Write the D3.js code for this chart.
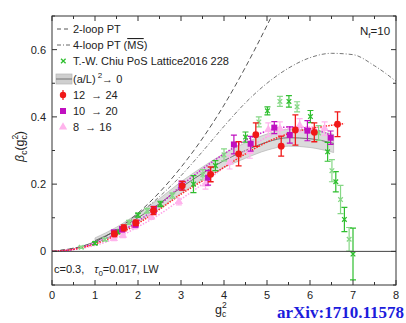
<!DOCTYPE html>
<html>
<head>
<meta charset="utf-8">
<script src="https://cdn.jsdelivr.net/npm/d3@7"></script>
<style>
  body { margin: 0; background: #fff; }
  svg { display: block; font-family: "Liberation Sans", Arial, sans-serif; }
  text { fill: #222; }
</style>
</head>
<body>
<svg id="chart" width="406" height="323"></svg>
<script>
// tick values
const xTicks = [0, 1, 2, 3, 4, 5, 6, 7, 8];
const xMinor = [0.5, 1.5, 2.5, 3.5, 4.5, 5.5, 6.5, 7.5];
const yTicks = [0, 0.2, 0.4, 0.6];
const yMinor = [-0.1, 0.1, 0.3, 0.5, 0.7];

// perturbative curves
const pt2X = [0, 1, 2, 3, 4, 4.5, 5, 5.3];
const pt2Y = [0, 0.029, 0.114, 0.25, 0.435, 0.548, 0.672, 0.75];
const pt4X = [0, 1, 2, 3, 3.5, 4, 4.5, 5, 5.5, 6, 6.5, 7, 7.5, 8];
const pt4Y = [0, 0.029, 0.11, 0.225, 0.297, 0.372, 0.442, 0.5, 0.545, 0.576, 0.589, 0.585, 0.552, 0.506];

// continuum extrapolation band
const bandX = [1.0, 1.5, 2.0, 2.5, 3.0, 3.5, 4.0, 4.5, 5.0, 5.5, 6.0, 6.55];
const bandMid = [0.032, 0.062, 0.1, 0.142, 0.19, 0.232, 0.27, 0.3, 0.325, 0.338, 0.335, 0.321];
const bandHalf = [0.008, 0.01, 0.013, 0.015, 0.017, 0.019, 0.021, 0.023, 0.024, 0.025, 0.026, 0.027];

// interpolating fits per volume pair
const fitX = [0, 0.5, 1, 1.5, 2, 2.5, 3, 3.5, 4, 4.5, 5, 5.5, 6, 6.5, 6.8];
const fit12Y = [0, 0.006, 0.022, 0.048, 0.083, 0.125, 0.17, 0.21, 0.25, 0.29, 0.325, 0.35, 0.365, 0.375, 0.38];
const fit10X = [0, 0.5, 1, 1.5, 2, 2.5, 3, 3.5, 4, 4.5, 5, 5.5, 6, 6.5];
const fit10Y = [0, 0.006, 0.025, 0.052, 0.09, 0.138, 0.195, 0.245, 0.29, 0.33, 0.358, 0.37, 0.365, 0.345];
const fit8X = [0, 0.5, 1, 1.5, 2, 2.5, 3, 3.5, 4, 4.5, 5, 5.5, 6, 6.4];
const fit8Y = [0, 0.005, 0.018, 0.04, 0.073, 0.11, 0.155, 0.2, 0.25, 0.3, 0.34, 0.365, 0.37, 0.365];

// 12 -> 24
const redX = [1.45, 1.67, 1.95, 2.36, 3.03, 3.69, 4.34, 4.74, 5.33, 5.66, 6.10, 6.64];
const redY = [0.052, 0.070, 0.085, 0.121, 0.195, 0.229, 0.290, 0.347, 0.313, 0.361, 0.354, 0.378];
const redE = [0.008, 0.009, 0.008, 0.012, 0.013, 0.022, 0.036, 0.035, 0.03, 0.045, 0.028, 0.037];
// 10 -> 20
const magX = [1.44, 1.63, 1.94, 2.37, 3.01, 3.63, 4.23, 4.62, 5.17, 5.53, 5.94, 6.48];
const magY = [0.056, 0.066, 0.080, 0.124, 0.196, 0.219, 0.318, 0.320, 0.368, 0.346, 0.359, 0.338];
const magE = [0.007, 0.008, 0.008, 0.010, 0.013, 0.022, 0.028, 0.022, 0.018, 0.024, 0.03, 0.02];
// 8 -> 16
const pinkX = [1.44, 1.65, 1.92, 2.31, 2.95, 3.57, 4.13, 4.60, 5.03, 5.30, 5.76, 6.34];
const pinkY = [0.038, 0.048, 0.074, 0.103, 0.148, 0.200, 0.265, 0.297, 0.362, 0.365, 0.375, 0.365];
const pinkE = [0.006, 0.007, 0.007, 0.008, 0.01, 0.015, 0.02, 0.02, 0.02, 0.02, 0.02, 0.02];
// T.-W. Chiu
const chiuX = [0.68, 1.0, 1.23, 1.53, 1.79, 2.0, 2.21, 2.52, 2.80, 3.29, 3.51, 3.80, 4.0, 4.5, 4.81, 5.01,
  5.30, 5.51, 5.70, 6.01, 6.20, 6.41, 6.51, 6.60, 6.71, 6.80, 6.91, 7.00];
const chiuY = [0.012, 0.024, 0.035, 0.058, 0.086, 0.108, 0.121, 0.141, 0.166, 0.200, 0.228, 0.255, 0.287, 0.340, 0.385, 0.418,
  0.446, 0.446, 0.430, 0.401, 0.352, 0.296, 0.240, 0.207, 0.154, 0.095, 0.036, -0.008];
const chiuE = [0.003, 0.004, 0.004, 0.005, 0.006, 0.006, 0.007, 0.008, 0.008, 0.025, 0.015, 0.015, 0.018, 0.015, 0.015, 0.012,
  0.015, 0.017, 0.015, 0.018, 0.022, 0.028, 0.033, 0.03, 0.042, 0.036, 0.035, 0.077];

const svg = d3.select('#chart');
const W = 406, H = 323;
const margin = { left: 52, right: 10, top: 16, bottom: 38 };

const x = d3.scaleLinear().domain([0, 8]).range([margin.left, W - margin.right]);
const y = d3.scaleLinear().domain([-0.1, 0.7]).range([H - margin.bottom, margin.top]);

svg.append('defs').append('clipPath').attr('id', 'clip')
  .append('rect')
  .attr('x', x(0)).attr('y', y(0.7))
  .attr('width', x(8) - x(0)).attr('height', y(-0.1) - y(0.7));

const plot = svg.append('g').attr('clip-path', 'url(#clip)');

const zip = (xs, ys) => xs.map((v, i) => [v, ys[i]]);
const line = d3.line().x(d => x(d[0])).y(d => y(d[1])).curve(d3.curveMonotoneX);

// band
const band = bandX.map((v, i) => ({ x: v, lo: bandMid[i] - bandHalf[i], hi: bandMid[i] + bandHalf[i], m: bandMid[i] }));
plot.append('path')
  .attr('d', d3.area().x(d => x(d.x)).y0(d => y(d.lo)).y1(d => y(d.hi)).curve(d3.curveMonotoneX)(band))
  .attr('fill', '#cfcfcf').attr('fill-opacity', 0.75)
  .attr('stroke', '#b5b5b5').attr('stroke-width', 0.7);
plot.append('path')
  .attr('d', line(band.map(d => [d.x, d.m])))
  .attr('fill', 'none').attr('stroke', '#707070').attr('stroke-width', 1);

// PT curves
plot.append('path').attr('d', line(zip(pt2X, pt2Y)))
  .attr('fill', 'none').attr('stroke', '#555').attr('stroke-width', 1)
  .attr('stroke-dasharray', '5,3');
plot.append('path').attr('d', line(zip(pt4X, pt4Y)))
  .attr('fill', 'none').attr('stroke', '#666').attr('stroke-width', 0.9)
  .attr('stroke-dasharray', '4,2,1,2');

// fits
plot.append('path').attr('d', line(zip(fit8X, fit8Y)))
  .attr('fill', 'none').attr('stroke', '#ff9ee6').attr('stroke-width', 1.5).attr('stroke-dasharray', '1.5,1.5');
plot.append('path').attr('d', line(zip(fit10X, fit10Y)))
  .attr('fill', 'none').attr('stroke', '#cc22cc').attr('stroke-width', 1.5).attr('stroke-dasharray', '1.5,1.5');
plot.append('path').attr('d', line(zip(fitX, fit12Y)))
  .attr('fill', 'none').attr('stroke', '#f22').attr('stroke-width', 1.5).attr('stroke-dasharray', '1.5,1.2');

// error bars
function errBars(xs, ys, es, color, width) {
  const g = plot.append('g').attr('fill', 'none').attr('stroke-width', width);
  xs.forEach((v, i) => {
    const c = typeof color === 'function' ? color(i) : color;
    const px = x(v), y0 = y(ys[i] - es[i]), y1 = y(ys[i] + es[i]);
    g.append('path')
      .attr('d', `M${px},${y0}V${y1}M${px - 3},${y0}H${px + 3}M${px - 3},${y1}H${px + 3}`)
      .attr('stroke', c);
  });
}

const chiuColor = i => (i % 2 ? '#2fbf2f' : '#86d886');
errBars(chiuX, chiuY, chiuE, chiuColor, 1.2);
plot.append('g').selectAll('path').data(chiuX).join('path')
  .attr('d', (d, i) => {
    const px = x(d), py = y(chiuY[i]), s = 2.3;
    return `M${px - s},${py - s}L${px + s},${py + s}M${px - s},${py + s}L${px + s},${py - s}`;
  })
  .attr('stroke', (d, i) => chiuColor(i)).attr('stroke-width', 1.3);

errBars(pinkX, pinkY, pinkE, '#ffb3ec', 1.2);
plot.append('g').selectAll('path').data(pinkX).join('path')
  .attr('d', d3.symbol(d3.symbolTriangle, 30))
  .attr('transform', (d, i) => `translate(${x(d)},${y(pinkY[i])})`)
  .attr('fill', '#ffb3ec');

errBars(magX, magY, magE, '#c010c0', 1.2);
plot.append('g').selectAll('rect').data(magX).join('rect')
  .attr('x', d => x(d) - 3).attr('y', (d, i) => y(magY[i]) - 3)
  .attr('width', 6).attr('height', 6)
  .attr('fill', '#c010c0');

errBars(redX, redY, redE, '#f01818', 1.3);
plot.append('g').selectAll('circle').data(redX).join('circle')
  .attr('cx', d => x(d)).attr('cy', (d, i) => y(redY[i]))
  .attr('r', 3.4).attr('fill', '#f01818');

// zero line
svg.append('line')
  .attr('x1', x(0)).attr('x2', x(8)).attr('y1', y(0)).attr('y2', y(0))
  .attr('stroke', '#444').attr('stroke-width', 1);

// frame and ticks
svg.append('rect')
  .attr('x', x(0)).attr('y', y(0.7))
  .attr('width', x(8) - x(0)).attr('height', y(-0.1) - y(0.7))
  .attr('fill', 'none').attr('stroke', '#333').attr('stroke-width', 1);

const ticks = svg.append('g').attr('stroke', '#333').attr('stroke-width', 1);
xTicks.concat(xMinor).forEach(v => {
  const len = xTicks.includes(v) ? 5 : 3;
  ticks.append('line').attr('x1', x(v)).attr('x2', x(v)).attr('y1', y(-0.1)).attr('y2', y(-0.1) - len);
  ticks.append('line').attr('x1', x(v)).attr('x2', x(v)).attr('y1', y(0.7)).attr('y2', y(0.7) + len);
});
yTicks.concat(yMinor).forEach(v => {
  const len = yTicks.includes(v) ? 5 : 3;
  ticks.append('line').attr('x1', x(0)).attr('x2', x(0) + len).attr('y1', y(v)).attr('y2', y(v));
  ticks.append('line').attr('x1', x(8)).attr('x2', x(8) - len).attr('y1', y(v)).attr('y2', y(v));
});

svg.append('g').selectAll('text').data(xTicks).join('text')
  .attr('x', d => x(d)).attr('y', H - margin.bottom + 14)
  .attr('text-anchor', 'middle').attr('font-size', 11)
  .text(d => d);
svg.append('g').selectAll('text').data(yTicks).join('text')
  .attr('x', x(0) - 6).attr('y', d => y(d) + 4)
  .attr('text-anchor', 'end').attr('font-size', 11)
  .text(d => d);

// axis labels
const xl = svg.append('text').attr('x', 215).attr('y', 314).attr('font-size', 12.5);
xl.append('tspan').text('g');
xl.append('tspan').attr('dx', 0).attr('dy', -6).attr('font-size', 8.5).text('2');
xl.append('tspan').attr('dx', -4.7).attr('dy', 9).attr('font-size', 8.5).text('c');

const yl = svg.append('text').attr('transform', 'translate(24,162) rotate(-90)').attr('font-size', 12.5);
yl.append('tspan').attr('font-style', 'italic').text('β');
yl.append('tspan').attr('dy', 3).attr('font-size', 8.5).text('c');
yl.append('tspan').attr('dy', -3).text('(g');
yl.append('tspan').attr('dy', -6).attr('font-size', 8.5).text('2');
yl.append('tspan').attr('dx', -4.7).attr('dy', 9).attr('font-size', 8.5).text('c');
yl.append('tspan').attr('dy', -3).text(')');

// Nf label
const nf = svg.append('text').attr('x', 360).attr('y', 35).attr('font-size', 11.5);
nf.append('tspan').text('N');
nf.append('tspan').attr('dy', 3).attr('font-size', 8).text('f');
nf.append('tspan').attr('dy', -3).text('=10');

// parameters note
const note = svg.append('text').attr('x', 54).attr('y', 273).attr('font-size', 11);
note.append('tspan').text('c=0.3,');
note.append('tspan').attr('dx', 10).attr('font-style', 'italic').text('τ');
note.append('tspan').attr('dy', 3).attr('font-size', 8).text('0');
note.append('tspan').attr('dy', -3).text('=0.017, LW');

// legend
const lg = svg.append('g').attr('font-size', 11);
const lx = 57, tx = 73;
const rows = [29, 45, 61, 79, 95, 111, 127];
lg.append('line').attr('x1', lx).attr('x2', lx + 13).attr('y1', rows[0]).attr('y2', rows[0])
  .attr('stroke', '#555').attr('stroke-dasharray', '4,3');
lg.append('line').attr('x1', lx).attr('x2', lx + 13).attr('y1', rows[1]).attr('y2', rows[1])
  .attr('stroke', '#666').attr('stroke-dasharray', '4,2,1,2');
lg.append('path')
  .attr('d', `M${lx + 4},${rows[2] - 2.3}l4.6,4.6M${lx + 4},${rows[2] + 2.3}l4.6,-4.6`)
  .attr('stroke', '#2fbf2f').attr('stroke-width', 1.3);
lg.append('rect').attr('x', lx - 1).attr('y', rows[3] - 5).attr('width', 16).attr('height', 10)
  .attr('fill', '#cfcfcf').attr('stroke', '#b5b5b5').attr('stroke-width', 0.7);
lg.append('line').attr('x1', lx - 1).attr('x2', lx + 15).attr('y1', rows[3]).attr('y2', rows[3])
  .attr('stroke', '#707070');
lg.append('circle').attr('cx', lx + 6).attr('cy', rows[4]).attr('r', 3.2).attr('fill', '#f01818');
lg.append('line').attr('x1', lx + 6).attr('x2', lx + 6).attr('y1', rows[4] - 5).attr('y2', rows[4] + 5)
  .attr('stroke', '#f01818').attr('stroke-width', 1.2);
lg.append('rect').attr('x', lx + 3).attr('y', rows[5] - 3).attr('width', 6).attr('height', 6).attr('fill', '#c010c0');
lg.append('path').attr('d', d3.symbol(d3.symbolTriangle, 30))
  .attr('transform', `translate(${lx + 6},${rows[6]})`).attr('fill', '#ffb3ec');

const labels = ['2-loop PT', null, 'T.-W. Chiu PoS Lattice2016 228', null, '12  \u2192 24', '10  \u2192 20', '8  \u2192 16'];
labels.forEach((t, i) => {
  if (t) lg.append('text').attr('x', tx).attr('y', rows[i] + 4).style('white-space', 'pre').text(t);
});
const l4 = lg.append('text').attr('x', tx).attr('y', rows[1] + 4);
l4.append('tspan').text('4-loop PT (');
l4.append('tspan').style('text-decoration', 'overline').text('MS');
l4.append('tspan').text(')');
const la = lg.append('text').attr('x', tx).attr('y', rows[3] + 4);
la.append('tspan').text('(a/L)');
la.append('tspan').attr('dx', 2).attr('dy', -5).attr('font-size', 8).text('2');
la.append('tspan').attr('dy', 5).text('\u2192 0');

// arXiv stamp
svg.append('text').attr('x', 404).attr('y', 318).attr('text-anchor', 'end')
  .style('font-family', '"Liberation Serif", "Times New Roman", serif')
  .style('font-weight', 'bold').style('font-size', '17px')
  .style('fill', '#1c1cdc')
  .text('arXiv:1710.11578');
</script>
</body>
</html>
